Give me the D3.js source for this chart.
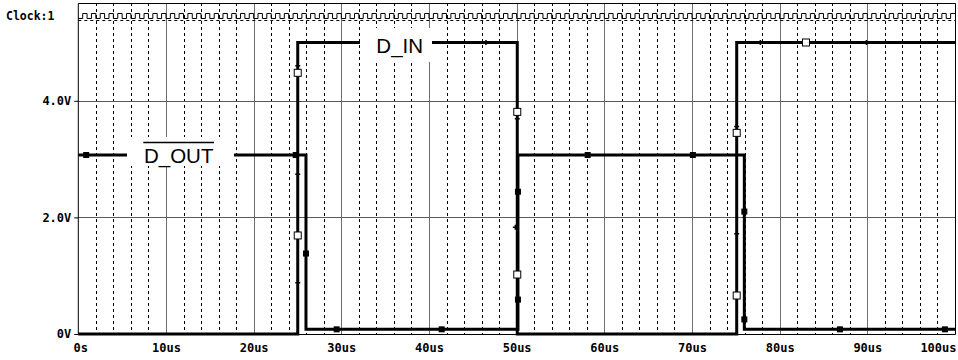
<!DOCTYPE html>
<html>
<head>
<meta charset="utf-8">
<script src="https://cdn.jsdelivr.net/npm/d3@7"></script>
<style>
  html, body { margin: 0; padding: 0; background: #fff; }
  svg { display: block; }
  .mono { font-family: "DejaVu Sans Mono", monospace; font-weight: bold; }
</style>
</head>
<body>
<svg id="chart" width="958" height="360"></svg>
<script>
// ---------------- data ----------------
const timeTicks = [0, 10, 20, 30, 40, 50, 60, 70, 80, 90, 100];
const timeTickLabels = ["0s", "10us", "20us", "30us", "40us", "50us", "60us", "70us", "80us", "90us", "100us"];
const minorTimeTicks = [2, 4, 6, 8, 12, 14, 16, 18, 22, 24, 26, 28, 32, 34, 36, 38, 42, 44, 46, 48,
                        52, 54, 56, 58, 62, 64, 66, 68, 72, 74, 76, 78, 82, 84, 86, 88, 92, 94, 96, 98];
const voltTicks = [0, 2, 4];
const voltTickLabels = ["0V", "2.0V", "4.0V"];

// D_IN trace (time in us, volts)
const dinTime = [0, 25.03, 25.03, 50.07, 50.07, 75.1, 75.1, 100];
const dinVolt = [0, 0, 5, 5, 0, 0, 5, 5];
// D_IN hollow square markers
const dinMarkTime = [25.03, 25.03, 50.07, 50.07, 75.1, 75.1, 83.0];
const dinMarkVolt = [4.48, 1.69, 3.81, 1.02, 3.45, 0.66, 5.0];
// D_IN tiny tick markers
const dinTickTime = [25.03, 25.03, 25.03, 46.5, 50.07, 49.85, 77.8, 89.9, 75.1, 75.1];
const dinTickVolt = [4.6, 2.74, 0.88, 5.0, 3.69, 1.83, 5.0, 5.0, 3.56, 1.72];

// D_OUT trace
const doutTime = [0, 25.97, 25.97, 50.15, 50.15, 75.97, 75.97, 100];
const doutVolt = [3.07, 3.07, 0.08, 0.08, 3.07, 3.07, 0.08, 0.08];
// D_OUT filled square markers
const doutMarkTime = [0.9, 24.8, 25.97, 29.47, 41.45, 50.15, 50.15, 58.1, 70.1, 75.97, 75.97, 86.88, 98.85];
const doutMarkVolt = [3.07, 3.07, 1.38, 0.08, 0.08, 2.44, 0.59, 3.07, 3.07, 2.10, 0.25, 0.08, 0.08];

// Clock: 1us period, 0.5us low then 0.5us high, 100 cycles
const clockPeriod = 1;
const clockCycles = 100;
const clockLabel = "Clock:1";

const labels = ["D_IN", "D_OUT"];

// ---------------- layout ----------------
const mLeft = 78.3, mRight = 955, mTop = 3, plotTop = 20, mBottom = 334;
const x = d3.scaleLinear().domain([0, 100]).range([mLeft, mRight]);
const y = d3.scaleLinear().domain([0, 4]).range([mBottom, 100.8]);

const svg = d3.select("#chart");
svg.append("rect").attr("width", 958).attr("height", 360).attr("fill", "#fff");

// minor dashed verticals
svg.append("g").selectAll("line").data(minorTimeTicks).join("line")
  .attr("x1", d => Math.round(x(d)) + 0.5).attr("x2", d => Math.round(x(d)) + 0.5)
  .attr("y1", mTop).attr("y2", mBottom)
  .attr("stroke", "#000").attr("stroke-width", 1).attr("stroke-dasharray", "3,3");

// major verticals
svg.append("g").selectAll("line").data(timeTicks.slice(1, -1)).join("line")
  .attr("x1", d => Math.round(x(d)) + 0.5).attr("x2", d => Math.round(x(d)) + 0.5)
  .attr("y1", mTop).attr("y2", mBottom)
  .attr("stroke", "#6e6e6e").attr("stroke-width", 1);

// horizontal grid
svg.append("g").selectAll("line").data(voltTicks.slice(1)).join("line")
  .attr("x1", mLeft).attr("x2", mRight)
  .attr("y1", d => Math.round(y(d)) + 0.5).attr("y2", d => Math.round(y(d)) + 0.5)
  .attr("stroke", "#5a5a5a").attr("stroke-width", 1);

// dashed plot top
svg.append("line").attr("x1", mLeft).attr("x2", mRight).attr("y1", plotTop + 0.5).attr("y2", plotTop + 0.5)
  .attr("stroke", "#000").attr("stroke-dasharray", "3,3");

// frame
svg.append("path")
  .attr("d", `M${mLeft},${mBottom + 0.5}H${mRight + 0.5}V${mTop + 0.5}H${mLeft}Z`)
  .attr("fill", "none").attr("stroke", "#000").attr("stroke-width", 1);

// y-axis ticks & labels
const yAxis = d3.axisLeft(y).tickValues(voltTicks).tickSize(4).tickPadding(3)
  .tickFormat((d, i) => voltTickLabels[i]);
const gy = svg.append("g").attr("transform", `translate(${mLeft},0)`).call(yAxis);
gy.select(".domain").remove();
gy.selectAll("text").attr("class", "mono").attr("font-size", 12).attr("fill", "#000");

// x-axis labels
const xAxis = d3.axisBottom(x).tickValues(timeTicks).tickSize(0).tickPadding(9)
  .tickFormat((d, i) => timeTickLabels[i]);
const gx = svg.append("g").attr("transform", `translate(0,${mBottom})`).call(xAxis);
gx.select(".domain").remove();
gx.selectAll("text").attr("class", "mono").attr("font-size", 12).attr("fill", "#000")
  .attr("text-anchor", (d, i) => i === timeTicks.length - 1 ? "end" : "middle")
  .attr("dx", (d, i) => i === timeTicks.length - 1 ? 1 : (i === 0 ? 2 : 0));

// clock
const clkHi = 13.5, clkLo = 18.5;
const clkPts = [];
for (let c = 0; c < clockCycles; c++) {
  const t0 = c * clockPeriod;
  clkPts.push([t0, clkLo], [t0 + clockPeriod / 2, clkLo], [t0 + clockPeriod / 2, clkHi], [t0 + clockPeriod, clkHi]);
}
svg.append("path")
  .attr("d", d3.line().x(d => x(d[0])).y(d => d[1])(clkPts))
  .attr("fill", "none").attr("stroke", "#000").attr("stroke-width", 1);
svg.append("text").attr("class", "mono").attr("font-size", 11.5)
  .attr("x", 6).attr("y", 20).attr("fill", "#000").text(clockLabel);

// traces
const line = d3.line().x(d => x(d[0])).y(d => y(d[1]));
svg.append("path").attr("d", line(dinTime.map((t, i) => [t, dinVolt[i]])))
  .attr("fill", "none").attr("stroke", "#000").attr("stroke-width", 3);
svg.append("path").attr("d", line(doutTime.map((t, i) => [t, doutVolt[i]])))
  .attr("fill", "none").attr("stroke", "#000").attr("stroke-width", 3);

// tiny markers
svg.append("g").selectAll("path").data(dinTickTime.map((t, i) => [t, dinTickVolt[i]])).join("path")
  .attr("d", d => `M${x(d[0]) - 2.5},${y(d[1])}h5M${x(d[0])},${y(d[1]) - 2.5}v5`)
  .attr("stroke", "#000").attr("stroke-width", 1.5);

// D_OUT filled squares
svg.append("g").selectAll("rect").data(doutMarkTime.map((t, i) => [t, doutMarkVolt[i]])).join("rect")
  .attr("x", d => x(d[0]) - 3).attr("y", d => y(d[1]) - 3).attr("width", 6).attr("height", 6)
  .attr("fill", "#000");

// D_IN hollow squares
svg.append("g").selectAll("rect").data(dinMarkTime.map((t, i) => [t, dinMarkVolt[i]])).join("rect")
  .attr("x", d => x(d[0]) - 3.5).attr("y", d => y(d[1]) - 3.5).attr("width", 7).attr("height", 7)
  .attr("fill", "#fff").attr("stroke", "#000").attr("stroke-width", 1);

// trace labels with white boxes
svg.append("rect").attr("x", 360).attr("y", 28).attr("width", 72).attr("height", 34).attr("fill", "#fff");
svg.append("text").attr("x", 399.7).attr("y", 53.3).attr("text-anchor", "middle")
  .attr("font-family", "Liberation Sans, Arial, sans-serif").attr("font-size", 20.5).attr("fill", "#000")
  .text(labels[0]);

svg.append("rect").attr("x", 127).attr("y", 137).attr("width", 107).attr("height", 29).attr("fill", "#fff");
svg.append("text").attr("x", 178.7).attr("y", 163.3).attr("text-anchor", "middle")
  .attr("font-family", "Liberation Sans, Arial, sans-serif").attr("font-size", 20.5).attr("fill", "#000")
  .text(labels[1]);
svg.append("line").attr("x1", 143.3).attr("x2", 214).attr("y1", 142.5).attr("y2", 142.5)
  .attr("stroke", "#000").attr("stroke-width", 1.5);
</script>
</body>
</html>
